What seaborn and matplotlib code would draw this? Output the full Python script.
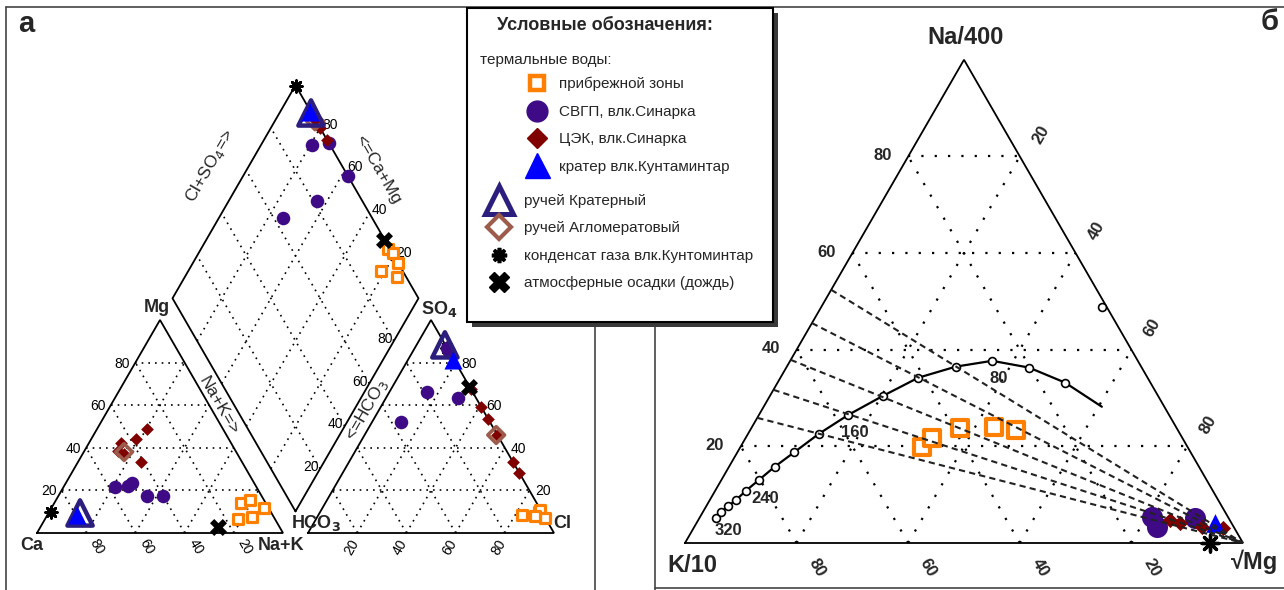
import numpy as np
import pandas as pd
import matplotlib
matplotlib.use("Agg")
import matplotlib.pyplot as plt
import seaborn as sns
from matplotlib.lines import Line2D
from matplotlib.patches import Rectangle

# ================= DATA =================
# ---- panel а : Piper diagram (% equivalents) ----
coast_ca   = [10.0, 5.6, 8.9, 15.0, 1.9]
coast_mg   = [14.1, 15.5, 7.5, 6.6, 11.7]
coast_nak  = [75.9, 78.9, 83.6, 78.4, 86.4]
coast_hco3 = [1.0, 0.0, 0.0, 8.8, 3.6]
coast_so4  = [10.0, 11.0, 7.0, 8.5, 8.0]
coast_cl   = [89.0, 89.0, 93.0, 82.7, 88.4]

svgp_ca   = [57.5, 49.6, 40.1, 46.6, 52.0]
svgp_mg   = [21.6, 23.5, 17.4, 17.4, 22.0]
svgp_nak  = [20.9, 26.9, 42.5, 36.0, 26.0]
svgp_hco3 = [7.3, 0.0, 0.0, 18.5, 36.1]
svgp_so4  = [63.4, 87.0, 85.0, 66.2, 52.1]
svgp_cl   = [29.3, 13.0, 15.0, 15.3, 11.8]

cek_ca   = [31.0, 37.7, 44.7, 47.8, 41.1, 46.0]
cek_mg   = [48.8, 44.1, 42.3, 38.5, 33.3, 37.0]
cek_nak  = [20.2, 18.2, 13.0, 13.7, 25.6, 17.0]
cek_hco3 = [0.0, 0.0, 0.0, 0.0, 0.0, 0.0]
cek_so4  = [67.6, 59.2, 53.5, 33.3, 28.2, 46.0]
cek_cl   = [32.4, 40.8, 46.5, 66.7, 71.8, 54.0]

crater_ca, crater_mg, crater_nak = [79.5], [8.5], [12.0]
crater_hco3, crater_so4, crater_cl = [0.5], [81.2], [18.3]

krat_ca, krat_mg, krat_nak = [77.8], [9.4], [12.8]
krat_hco3, krat_so4, krat_cl = [0.2], [88.3], [11.5]

aglo_ca, aglo_mg, aglo_nak = [45.6], [38.0], [16.4]
aglo_hco3, aglo_so4, aglo_cl = [0.5], [46.0], [53.5]

gas_ca, gas_mg, gas_nak = [89.5], [10.0], [0.5]
gas_hco3, gas_so4, gas_cl = [0.0], [87.0], [13.0]

rain_ca, rain_mg, rain_nak = [25.0], [2.8], [72.2]
rain_hco3, rain_so4, rain_cl = [0.3], [68.5], [31.2]

# ---- panel б : Na/400 - K/10 - sqrt(Mg) triangle (%) ----
b_coast_na = [19.9, 21.7, 23.8, 24.0, 23.4]
b_coast_mg = [32.5, 33.4, 37.4, 43.4, 47.6]
b_svgp_na = [5.4, 3.3, 5.2]
b_svgp_mg = [81.0, 82.9, 88.8]
b_cek_na = [4.8, 4.1, 3.3, 3.1]
b_cek_mg = [84.5, 86.6, 91.0, 94.9]
b_crater_na = [4.1]
b_crater_mg = [92.9]
b_gas_na = [0.0]
b_gas_mg = [94.1]

# full-equilibrium curve, temperatures, °C
eq_temp = [340, 320, 300, 280, 260, 240, 220, 200, 180, 160, 140, 120, 100, 80, 60, 40]
eq_na = [5.2, 6.4, 7.7, 8.9, 10.8, 13.0, 15.8, 18.8, 22.6, 26.5, 30.4, 34.2, 36.5, 37.7, 36.3, 33.2]
eq_mg = [2.9, 3.3, 3.9, 4.7, 5.5, 6.7, 8.2, 10.2, 12.7, 16.0, 20.2, 24.7, 30.3, 36.2, 43.5, 51.5]
eq_end_na, eq_end_mg = [28.2], [60.6]
eq_labels = [320, 240, 160, 80]
extra_circle_na, extra_circle_mg = [48.9], [50.3]
# K-Mg isotherm lines: Na % where they meet the Na-K side
kmg_na_left = [52.4, 45.5, 37.9, 31.7, 25.9]

ticks = [20, 40, 60, 80]

# ================= STYLE / GEOMETRY =================
sns.set_style("white")
plt.rcParams["font.family"] = ["Liberation Sans", "DejaVu Sans"]

ORANGE = "#FF8000"
PURPLE = "#3E0A86"
DRED = "#800000"
BLUE = "#0000FF"
NAVY = "#2B1E7C"
BROWN = "#9C5B4B"

SQ = np.sqrt(3) / 2
L_A = 246.0
CAT_O = (37.0, 533.0)
AN_O = (308.0, 533.0)
GAP = AN_O[0] - CAT_O[0] - L_A
DIA_B = (CAT_O[0] + L_A + GAP / 2, CAT_O[1] - GAP * SQ)
L_B = 558.0
GIG_O = (685.0, 543.0)


def tri_xy(origin, side, right, top):
    r = np.asarray(right, float) / 100
    t = np.asarray(top, float) / 100
    return origin[0] + side * (r + t / 2), origin[1] - side * SQ * t


def dia_xy(nak, hco3):
    a = 1 - np.asarray(nak, float) / 100
    c = 1 - np.asarray(hco3, float) / 100
    return DIA_B[0] + L_A * 0.5 * (c - a), DIA_B[1] - L_A * SQ * (a + c)


def piper_df(ca, mg, nak, hco3, so4, cl):
    cx, cy = tri_xy(CAT_O, L_A, nak, mg)
    nx, ny = tri_xy(AN_O, L_A, cl, so4)
    dx, dy = dia_xy(nak, hco3)
    return pd.DataFrame({"x": np.r_[cx, nx, dx], "y": np.r_[cy, ny, dy]})


def gig_df(na, mg):
    x, y = tri_xy(GIG_O, L_B, mg, na)
    return pd.DataFrame({"x": x, "y": y})


fig = plt.figure(figsize=(12.84, 5.90), dpi=100)
ax = fig.add_axes([0, 0, 1, 1])

# ---- frames ----
fc = "#444444"
ax.plot([6, 1284], [7, 7], color=fc, lw=1.2)
ax.plot([6, 6], [7, 590], color=fc, lw=1.2)
ax.plot([595, 595], [322, 590], color=fc, lw=1.2)
ax.plot([655, 655], [322, 590], color=fc, lw=1.2)
ax.plot([655, 1284], [588, 588], color=fc, lw=1.2)


# ---- ternary outline + grid helpers ----
def draw_triangle(origin, side, dots, lw_grid):
    xs, ys = tri_xy(origin, side, [0, 100, 0, 0], [0, 0, 100, 0])
    ax.plot(xs, ys, color="k", lw=1.3, zorder=2, solid_joinstyle="miter")
    for v in ticks:
        for r, t in (([0, 100 - v], [v, v]), ([v, v], [0, 100 - v]), ([100 - v, 0], [0, 100 - v])):
            gx, gy = tri_xy(origin, side, r, t)
            ax.plot(gx, gy, color="k", lw=lw_grid, ls=dots, zorder=1)


dots_a = (0, (1, 3))
draw_triangle(CAT_O, L_A, dots_a, 1.2)
draw_triangle(AN_O, L_A, dots_a, 1.2)

# diamond
dxs, dys = dia_xy([100, 0, 0, 100, 100], [100, 100, 0, 0, 100])
ax.plot(dxs, dys, color="k", lw=1.3, zorder=2)
for v in ticks:
    gx, gy = dia_xy([v, v], [100, 0])
    ax.plot(gx, gy, color="k", lw=1.2, ls=dots_a, zorder=1)
    gx, gy = dia_xy([100, 0], [v, v])
    ax.plot(gx, gy, color="k", lw=1.2, ls=dots_a, zorder=1)

tk = dict(fontsize=10, color="k", ha="center", va="center", rotation_mode="anchor")
for v in ticks:
    x, y = tri_xy(CAT_O, L_A, 0, v)
    ax.text(x - 13, y + 1, str(v), **tk)
    x, y = tri_xy(CAT_O, L_A, 100 - v, 0)
    ax.text(x + 11, y + 14, str(v), rotation=-60, **tk)
    x, y = tri_xy(AN_O, L_A, 100 - v, v)
    ax.text(x + 14, y + 1, str(v), **tk)
    x, y = tri_xy(AN_O, L_A, v, 0)
    ax.text(x - 6, y + 14, str(v), rotation=60, **tk)
    x, y = dia_xy([100], [100 - v])
    ax.text(x[0] - 9, y[0] - 2, str(v), **tk)
    x, y = dia_xy([100 - v], [0])
    ax.text(x[0] + 10, y[0] - 3, str(v), **tk)

vl = dict(fontsize=13, fontweight="bold", ha="center", va="center")
ax.text(157, 308, "Mg", **vl)
ax.text(32, 545, "Ca", **vl)
ax.text(281, 545, "Na+K", **vl)
ax.text(316, 523, "HCO$_\\mathbf{3}$", **vl)
ax.text(562, 524, "Cl", **vl)
ax.text(439, 309, "SO$_\\mathbf{4}$", **vl)

el = dict(fontsize=12.5, ha="center", va="center", rotation_mode="anchor")
ax.text(210, 166, "Cl+SO$_4$=>", rotation=60, **el)
ax.text(378, 170, "<=Ca+Mg", rotation=-60, **el)
ax.text(219, 406, "Na+K=>", rotation=-60, **el)
ax.text(367, 410, "<=HCO$_3$", rotation=60, **el)

ax.text(26, 24, "а", fontsize=21, fontweight="bold", ha="center", va="center")
ax.text(1270, 22, "б", fontsize=21, fontweight="bold", ha="center", va="center")


# ---- Piper data ----
def scat(df, z, **kw):
    sns.scatterplot(data=df, x="x", y="y", ax=ax, legend=False, zorder=z, **kw)


scat(piper_df(gas_ca, gas_mg, gas_nak, gas_hco3, gas_so4, gas_cl), 2.5,
     marker=(8, 2, 0), s=70, color="k", linewidth=2.0)
scat(piper_df(svgp_ca, svgp_mg, svgp_nak, svgp_hco3, svgp_so4, svgp_cl), 3,
     marker="o", s=95, color=PURPLE, edgecolor=PURPLE, linewidth=0)
scat(piper_df(cek_ca, cek_mg, cek_nak, cek_hco3, cek_so4, cek_cl), 4,
     marker="D", s=42, color=DRED, edgecolor=DRED, linewidth=0)
scat(piper_df(aglo_ca, aglo_mg, aglo_nak, aglo_hco3, aglo_so4, aglo_cl), 5,
     marker="D", s=72, facecolor="none", edgecolor=BROWN, linewidth=2.6)
scat(piper_df(krat_ca, krat_mg, krat_nak, krat_hco3, krat_so4, krat_cl), 5,
     marker="^", s=330, facecolor="none", edgecolor=NAVY, linewidth=3.2)
scat(piper_df(crater_ca, crater_mg, crater_nak, crater_hco3, crater_so4, crater_cl), 6,
     marker="^", s=170, color=BLUE, edgecolor=BLUE, linewidth=0)
scat(piper_df(coast_ca, coast_mg, coast_nak, coast_hco3, coast_so4, coast_cl), 6,
     marker="s", s=50, facecolor="white", edgecolor=ORANGE, linewidth=2.3)
scat(piper_df(rain_ca, rain_mg, rain_nak, rain_hco3, rain_so4, rain_cl), 7,
     marker="X", s=150, color="k", edgecolor="k", linewidth=0)

# ================= panel б =================
draw_triangle(GIG_O, L_B, (0, (1, 5)), 1.6)
tb = dict(fontsize=12, fontweight="bold", ha="center", va="center", rotation_mode="anchor")
for v in ticks:
    x, y = tri_xy(GIG_O, L_B, 0, v)
    ax.text(x - 26, y - 1, str(v), **tb)
    x, y = tri_xy(GIG_O, L_B, v, 100 - v)
    ax.text(x + 21, y - 22, str(v), rotation=60, **tb)
    x, y = tri_xy(GIG_O, L_B, 100 - v, 0)
    ax.text(x + 20, y + 25, str(v), rotation=-60, **tb)

bl = dict(fontsize=17, fontweight="bold", ha="center", va="center")
ax.text(966, 37, "Na/400", **bl)
ax.text(692, 565, "K/10", **bl)
ax.text(1255, 562, "√Mg", **bl)

# equilibrium curve
cx, cy = tri_xy(GIG_O, L_B, eq_mg + eq_end_mg, eq_na + eq_end_na)
sns.lineplot(x=cx, y=cy, sort=False, estimator=None, color="k", lw=1.6, ax=ax, zorder=3)
ex, ey = tri_xy(GIG_O, L_B, eq_mg, eq_na)
sns.scatterplot(x=ex, y=ey, ax=ax, marker="o", s=32, facecolor="white",
                edgecolor="k", linewidth=1.2, zorder=4, legend=False)
ox, oy = tri_xy(GIG_O, L_B, extra_circle_mg, extra_circle_na)
sns.scatterplot(x=ox, y=oy, ax=ax, marker="o", s=32, facecolor="white",
                edgecolor="k", linewidth=1.2, zorder=4, legend=False)
for t in eq_labels:
    i = eq_temp.index(t)
    ax.text(ex[i] + 7, ey[i] + 18, str(t), **dict(tb, rotation=0))

# data panel б
scat(gig_df(b_coast_na, b_coast_mg), 5, marker="s", s=130, facecolor="white",
     edgecolor=ORANGE, linewidth=3.0)
scat(gig_df(b_svgp_na, b_svgp_mg), 5, marker="o", s=230, color=PURPLE,
     edgecolor=PURPLE, linewidth=0)
scat(gig_df(b_cek_na, b_cek_mg), 6, marker="D", s=60, color=DRED,
     edgecolor=DRED, linewidth=0)
scat(gig_df(b_crater_na, b_crater_mg), 6, marker="^", s=180, color=BLUE,
     edgecolor=BLUE, linewidth=0)
scat(gig_df(b_gas_na, b_gas_mg), 7, marker=(8, 2, 0), s=150, color="k", linewidth=2.4)

# K-Mg isotherm dashed lines
for na in kmg_na_left:
    lx, ly = tri_xy(GIG_O, L_B, [0, 100], [na, 0])
    ax.plot(lx, ly, color="#222222", lw=1.5, ls=(0, (3, 2)), zorder=8)

# ================= legend =================
ax.add_patch(Rectangle((472, 13), 306, 314, facecolor="#3a3a3a", edgecolor="none", zorder=9))
ax.add_patch(Rectangle((467, 8), 306, 314, facecolor="white", edgecolor="k", lw=1.5, zorder=10))
ax.text(497, 25, "Условные обозначения:", fontsize=13, fontweight="bold",
        ha="left", va="center", zorder=11)
ax.text(480, 60, "термальные воды:", fontsize=11, ha="left", va="center", zorder=11)

h1 = [
    Line2D([], [], ls="", marker="s", ms=10, mfc="white", mec=ORANGE, mew=3.2),
    Line2D([], [], ls="", marker="o", ms=15, mfc=PURPLE, mec=PURPLE),
    Line2D([], [], ls="", marker="D", ms=10, mfc=DRED, mec=DRED),
    Line2D([], [], ls="", marker="^", ms=18, mfc=BLUE, mec=BLUE),
]
t1 = ["прибрежной зоны", "СВГП, влк.Синарка", "ЦЭК, влк.Синарка", "кратер влк.Кунтаминтар"]
h2 = [
    Line2D([], [], ls="", marker="^", ms=20, mfc="none", mec=NAVY, mew=3.6),
    Line2D([], [], ls="", marker="D", ms=12, mfc="none", mec=BROWN, mew=3.0),
    Line2D([], [], ls="", marker=(8, 2, 0), ms=11, color="k", mew=2.6),
    Line2D([], [], ls="", marker="X", ms=15, mfc="k", mec="k"),
]
t2 = ["ручей Кратерный", "ручей Агломератовый", "конденсат газа влк.Кунтоминтар",
      "атмосферные осадки (дождь)"]
lkw = dict(frameon=False, fontsize=11, borderpad=0, borderaxespad=0, labelspacing=0.88,
           bbox_transform=ax.transData, loc="upper left")
leg1 = ax.legend(h1, t1, bbox_to_anchor=(528, 77), handlelength=1.2, handletextpad=0.84, **lkw)
leg1.set_zorder(12)
ax.add_artist(leg1)
leg2 = ax.legend(h2, t2, bbox_to_anchor=(487, 194), handlelength=1.6, handletextpad=0.83, **lkw)
leg2.set_zorder(12)

ax.set_xlim(0, 1284)
ax.set_ylim(590, 0)
ax.axis("off")
fig.savefig("out.png", dpi=100)
